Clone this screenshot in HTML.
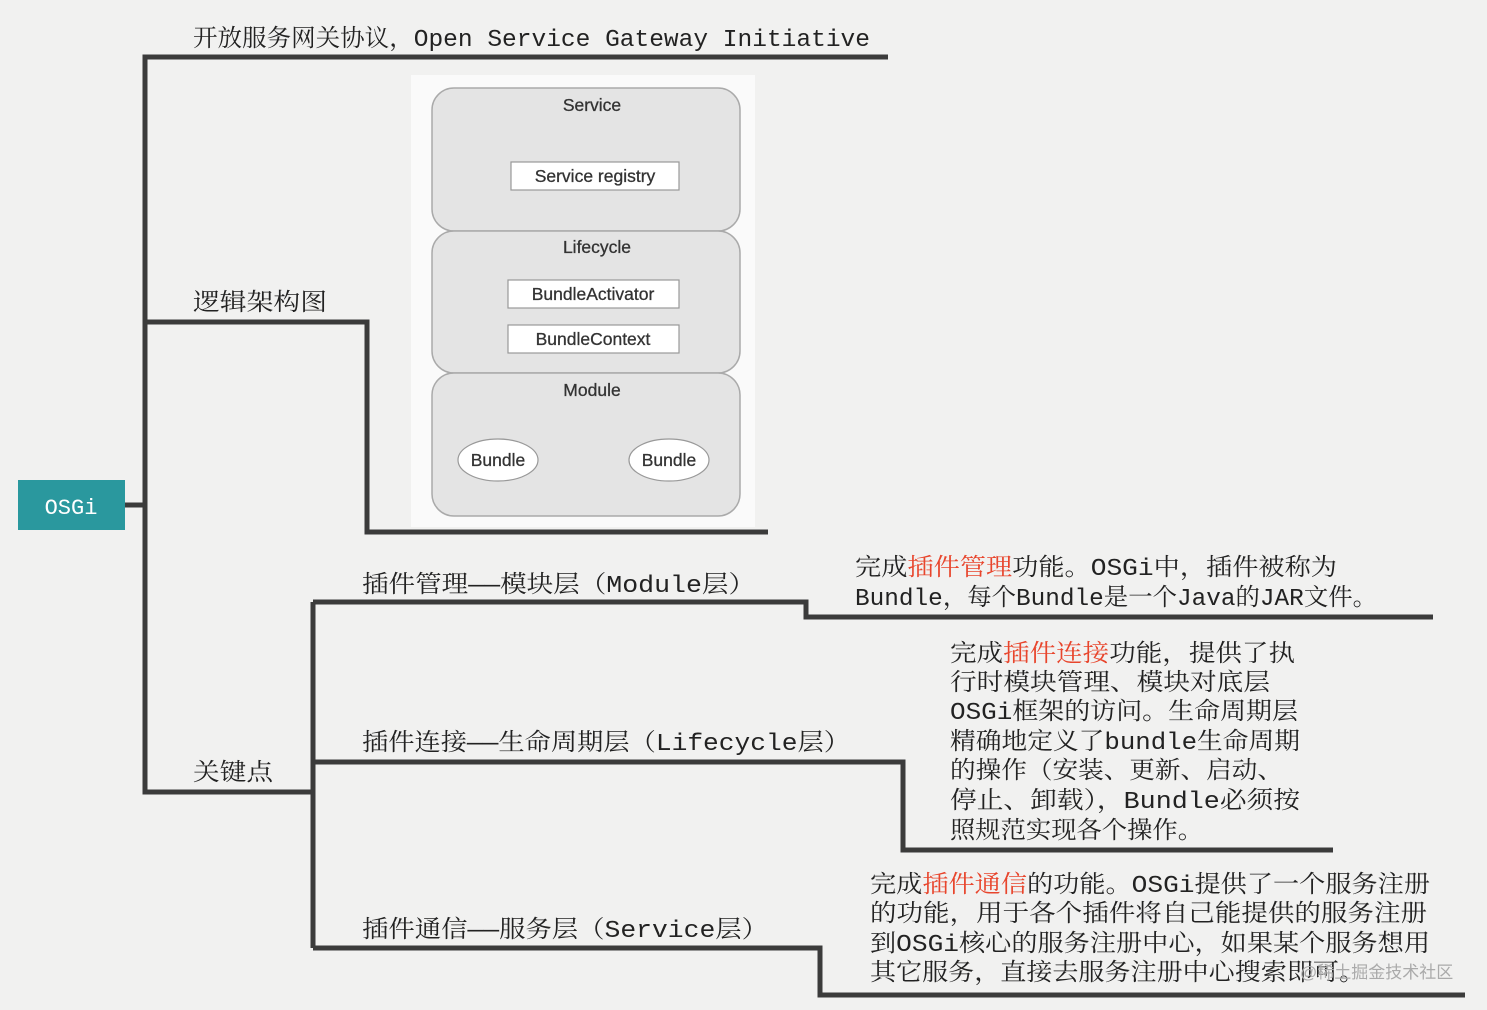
<!DOCTYPE html>
<html><head><meta charset="utf-8"><style>
body{margin:0;width:1487px;height:1010px;background:#f1f1f0;overflow:hidden}
svg{display:block}
.t{font-family:"Liberation Mono","Noto Serif CJK SC",serif;font-size:24px;fill:#222}
.d{font-family:"Liberation Sans",sans-serif;font-size:17.5px;fill:#333;text-anchor:middle;stroke:#333;stroke-width:0.3}
.r{fill:#e8452c}
</style></head><body>
<svg width="1487" height="1010" xmlns="http://www.w3.org/2000/svg">
<g fill="none" stroke="#3b3b3b" stroke-width="5">
<polyline points="888,57 145,57 145,792 313,792"/>
<line x1="125" y1="505" x2="145" y2="505"/>
<polyline points="145,322 367,322 367,532 768,532"/>
<line x1="313" y1="602" x2="313" y2="948"/>
<polyline points="313,602 806,602 806,617 1433,617"/>
<polyline points="313,762 903,762 903,850 1333,850"/>
<polyline points="313,948 820,948 820,995 1465,995"/>
</g>
<rect x="18" y="480" width="107" height="50" fill="#2a989e"/>
<text x="71" y="514" font-family="Liberation Mono,monospace" font-size="22" fill="#fff" text-anchor="middle">OSGi</text>
<g lengthAdjust="spacingAndGlyphs">
<text class="t" x="193" y="46" textLength="677" lengthAdjust="spacingAndGlyphs">开放服务网关协议，Open Service Gateway Initiative</text>
<text class="t" x="193" y="310" textLength="134" lengthAdjust="spacingAndGlyphs">逻辑架构图</text>
<text class="t" x="193" y="780" textLength="80" lengthAdjust="spacingAndGlyphs">关键点</text>
<text class="t" x="362" y="592" textLength="393" lengthAdjust="spacingAndGlyphs">插件管理——模块层（Module层）</text>
<text class="t" x="362" y="750" textLength="488" lengthAdjust="spacingAndGlyphs">插件连接——生命周期层（Lifecycle层）</text>
<text class="t" x="362" y="937" textLength="406" lengthAdjust="spacingAndGlyphs">插件通信——服务层（Service层）</text>
<text class="t" x="855" y="575" textLength="482" lengthAdjust="spacingAndGlyphs">完成<tspan class="r">插件管理</tspan>功能。OSGi中，插件被称为</text>
<text class="t" x="855" y="605" textLength="522" lengthAdjust="spacingAndGlyphs">Bundle，每个Bundle是一个Java的JAR文件。</text>
<text class="t" x="950" y="661" textLength="345" lengthAdjust="spacingAndGlyphs">完成<tspan class="r">插件连接</tspan>功能，提供了执</text>
<text class="t" x="950" y="690" textLength="320" lengthAdjust="spacingAndGlyphs">行时模块管理、模块对底层</text>
<text class="t" x="950" y="719" textLength="348" lengthAdjust="spacingAndGlyphs">OSGi框架的访问。生命周期层</text>
<text class="t" x="950" y="749" textLength="350" lengthAdjust="spacingAndGlyphs">精确地定义了bundle生命周期</text>
<text class="t" x="950" y="778" textLength="333" lengthAdjust="spacingAndGlyphs">的操作（安装、更新、启动、</text>
<text class="t" x="950" y="808" textLength="350" lengthAdjust="spacingAndGlyphs">停止、卸载），Bundle必须按</text>
<text class="t" x="950" y="838" textLength="253" lengthAdjust="spacingAndGlyphs">照规范实现各个操作。</text>
<text class="t" x="870" y="892" textLength="560" lengthAdjust="spacingAndGlyphs">完成<tspan class="r">插件通信</tspan>的功能。OSGi提供了一个服务注册</text>
<text class="t" x="870" y="921" textLength="557" lengthAdjust="spacingAndGlyphs">的功能，用于各个插件将自己能提供的服务注册</text>
<text class="t" x="870" y="951" textLength="560" lengthAdjust="spacingAndGlyphs">到OSGi核心的服务注册中心，如果某个服务想用</text>
<text class="t" x="870" y="980" textLength="495" lengthAdjust="spacingAndGlyphs">其它服务，直接去服务注册中心搜索即可。</text>
</g>
<text x="1300" y="978" font-family="Liberation Sans,Noto Sans CJK SC,sans-serif" font-size="17" fill="#aaa">@稀土掘金技术社区</text>
<rect x="411" y="75" width="344" height="452" fill="#fafafa"/>
<g fill="#e4e4e4" stroke="#aaa" stroke-width="1.5">
<rect x="432" y="88" width="308" height="143" rx="22"/>
<rect x="432" y="231" width="308" height="142" rx="22"/>
<rect x="432" y="373" width="308" height="143" rx="22"/>
</g>
<g fill="#fff" stroke="#999" stroke-width="1.2">
<rect x="511" y="162" width="168" height="28"/>
<rect x="508" y="280" width="171" height="28"/>
<rect x="508" y="325" width="171" height="28"/>
<ellipse cx="498" cy="460" rx="40" ry="21"/>
<ellipse cx="669" cy="460" rx="40" ry="21"/>
</g>
<text class="d" x="592" y="111">Service</text>
<text class="d" x="595" y="182">Service registry</text>
<text class="d" x="597" y="253">Lifecycle</text>
<text class="d" x="593" y="300">BundleActivator</text>
<text class="d" x="593" y="345">BundleContext</text>
<text class="d" x="592" y="396">Module</text>
<text class="d" x="498" y="466">Bundle</text>
<text class="d" x="669" y="466">Bundle</text>
</svg>
</body></html>
